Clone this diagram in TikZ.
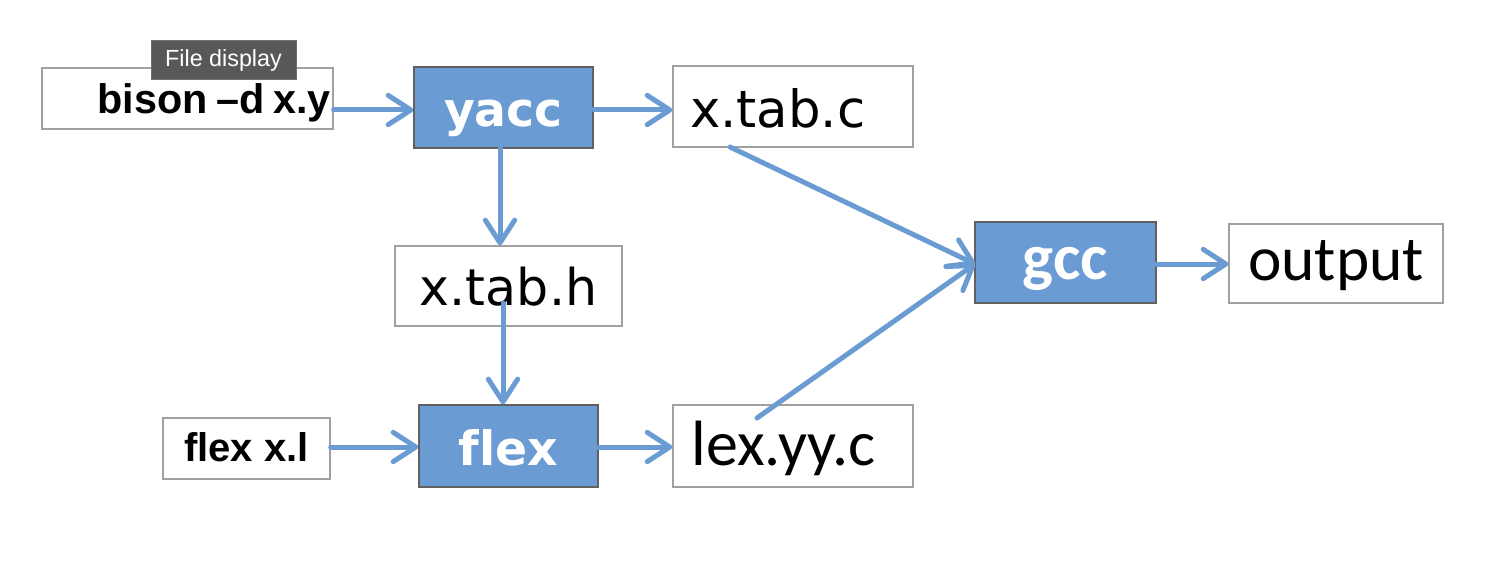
\documentclass[tikz,border=0pt]{standalone}
\usepackage{fontspec}
\usetikzlibrary{arrows.meta}
\setmainfont[Ligatures={TeX,NoCommon}]{Liberation Sans}
\newfontfamily\verdanafont[Ligatures=NoCommon]{DejaVu Sans}
\newfontfamily\calibrifont[Ligatures=NoCommon]{Carlito}
\definecolor{flowblue}{RGB}{106,155,210}
\definecolor{edgegray}{RGB}{160,160,160}
\definecolor{tipgray}{RGB}{88,88,88}

\begin{document}
\begin{tikzpicture}
    [x=0.75pt,y=-0.75pt,
    filebox/.style={draw=edgegray, fill=white, line width=1pt, inner sep=0pt, text depth=0pt},
    toolbox/.style={draw=edgegray!60!black, fill=flowblue, line width=1pt, inner sep=0pt,
        text depth=0pt, text=white, font=\verdanafont\bfseries\fontsize{35.5}{40}\selectfont},
    flow/.style={draw=flowblue, line width=3.75pt, line cap=round,
        -{Straight Barb[length=17pt,width=22pt,round]}}]
    \useasboundingbox (0,0) rectangle (1508,570);
    % commands typed in
    \node [filebox, minimum width=218.25pt, minimum height=45.75pt, text width=215pt, align=right,
        text height=22pt, font=\bfseries\fontsize{31}{34}\selectfont] (bison) at (187.5,98.5) {bison\hspace{0.2em}–d\hspace{0.22em}x.y};
    \node [filebox, minimum width=125.25pt, minimum height=45.75pt, align=center,
        text height=20pt, font=\bfseries\fontsize{30}{34}\selectfont] (flexl) at (246.5,448.5) {flex x.l};
    % the tools
    \node [toolbox, minimum width=134.25pt, minimum height=60.75pt, text height=29pt] (yacc) at (503.5,107.5) {yacc};
    \node [toolbox, minimum width=134.25pt, minimum height=61.5pt, text height=28.5pt] (flex) at (508.5,446) {flex};
    \node [toolbox, minimum width=135.75pt, minimum height=60.75pt, text height=26pt,
        font=\calibrifont\bfseries\fontsize{49}{54}\selectfont] (gcc) at (1065.5,262.5) {gcc};
    % generated files
    \node [filebox, minimum width=180pt, minimum height=60.75pt, text width=154.5pt, align=left,
        text height=31pt, font=\verdanafont\fontsize{38.5}{42}\selectfont] (xtabc) at (793,106.5) {x.tab.c};
    \node [filebox, minimum width=170.25pt, minimum height=60pt, align=center,
        text height=28.5pt, font=\verdanafont\fontsize{38}{42}\selectfont] (xtabh) at (508.5,286) {x.tab.h};
    \node [filebox, minimum width=180pt, minimum height=61.5pt, text width=152pt, align=left,
        text height=28.5pt, font=\calibrifont\fontsize{48}{52}\selectfont] (lexyyc) at (793,446) {lex.yy.c};
    \node [filebox, minimum width=160.5pt, minimum height=59.25pt, align=center,
        text height=25pt, font=\calibrifont\fontsize{47.5}{52}\selectfont] (output) at (1336,263.5) {output};
    % tooltip
    \node [draw=edgegray!70!black, fill=tipgray, line width=0.75pt, inner sep=0pt,
        minimum width=108.75pt, minimum height=29.25pt, text=white,
        font=\fontsize{17.5}{20}\selectfont] (tooltip) at (223.5,60.5) {File display};
    % arrows
    \coordinate (hstart) at (503,303);
    \coordinate (cstart) at (730,147);
    \coordinate (lstart) at (757,418);
    \coordinate (gccin) at (975,264);
    \draw [flow] (bison.east |- 0,110) -- (yacc.west |- 0,110);
    \draw [flow] (yacc.east |- 0,110) -- (xtabc.west |- 0,110);
    \draw [flow] (yacc.south -| 500,0) -- (xtabh.north -| 500,0);
    \draw [flow] (hstart) -- (flex.north -| hstart);
    \draw [flow] (flexl.east |- 0,447) -- (flex.west |- 0,447);
    \draw [flow] (flex.east |- 0,447) -- (lexyyc.west |- 0,447);
    \draw [flow] (cstart) -- (gccin);
    \draw [flow] (lstart) -- (gccin);
    \draw [flow] (gcc.east |- 0,264) -- (output.west |- 0,264);
\end{tikzpicture}
\end{document}
